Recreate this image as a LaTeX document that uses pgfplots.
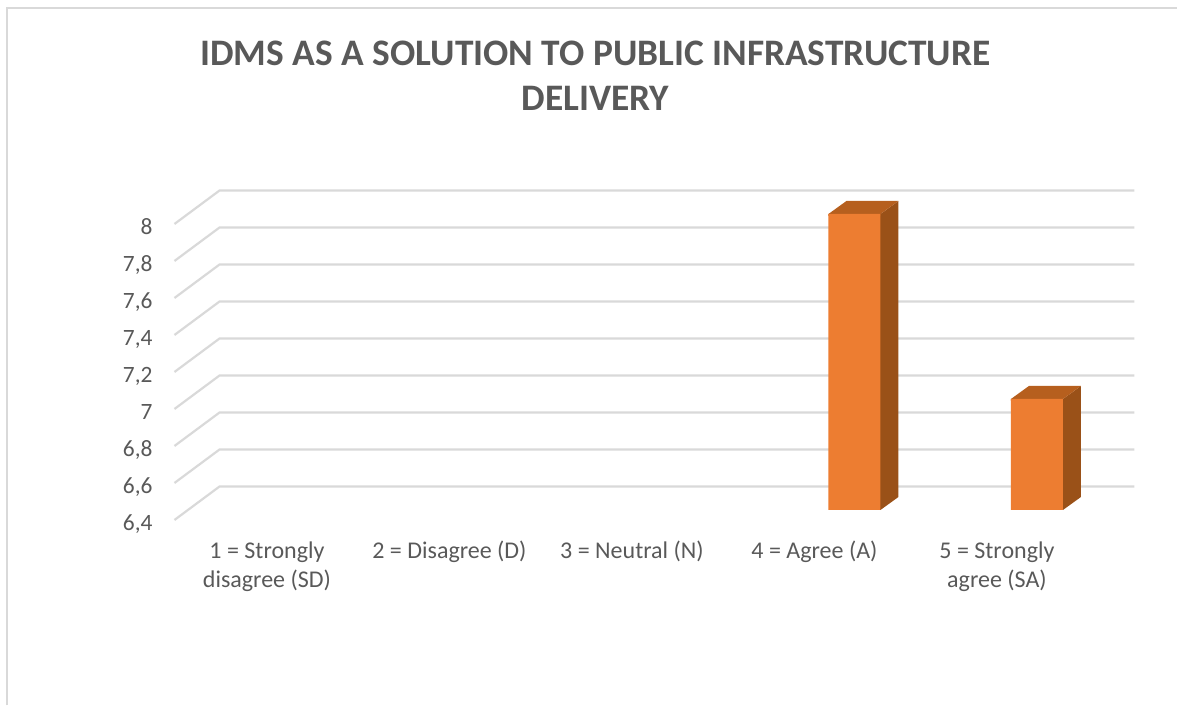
\documentclass[border=0pt]{standalone}
\usepackage{pgfplots}
\pgfplotsset{compat=1.18}
\usepackage{fontspec}
\setmainfont{Carlito}
\definecolor{labelgray}{HTML}{595959}
\definecolor{gridgray}{HTML}{D9D9D9}
\definecolor{framegray}{HTML}{D9D9D9}
\definecolor{barfront}{HTML}{ED7D31}
\definecolor{barside}{HTML}{9A5118}
\definecolor{bartop}{HTML}{B65F1E}
\begin{document}
\begin{tikzpicture}
\begin{axis}[
  at={(0,0)}, anchor=origin,
  width=456.25pt, height=148pt, scale only axis,
  xmin=-0.5, xmax=4.5, ymin=6.4, ymax=8,
  axis line style={draw=none},
  clip=false,
  tick style={draw=none},
  ytick={6.4,6.6,6.8,7,7.2,7.4,7.6,7.8,8},
  xtick={0,1,2,3,4},
  xticklabels={{1 = Strongly\\disagree (SD)},{2 = Disagree (D)},{3 = Neutral (N)},{4 = Agree (A)},{5 = Strongly\\agree (SA)}},
  /pgf/number format/assume math mode=true,
  /pgf/number format/use comma,
  /pgf/number format/precision=1,
  yticklabel style={font=\fontsize{11.7}{14}\selectfont, text=labelgray, anchor=base east, inner sep=0pt, xshift=-31.4pt, yshift=-10.25pt},
  xticklabel style={font=\fontsize{12}{14.5}\selectfont, text=labelgray, align=center, anchor=north, inner sep=0pt, xshift=-20pt, yshift=-15.5pt},
  title={IDMS AS A SOLUTION TO PUBLIC INFRASTRUCTURE\\DELIVERY},
  title style={at={(0.4162,1)}, anchor=south, align=center, inner sep=0pt, yshift=45.5pt,
    text=labelgray, font=\fontsize{18.7}{22.5}\selectfont\bfseries},
  bar width=0.285,
]
% canvas extent and outer chart border
\path (axis cs:-1.682,5.3405) rectangle (axis cs:4.773,9.1568);
\draw[framegray, line width=1pt] (axis cs:-1.644,5.344) -- (axis cs:-1.644,9.1135) -- (axis cs:4.7675,9.1135);

% floor and back-wall gridlines, one per tick value
\pgfplotsinvokeforeach{6.4,6.6,6.8,7.0,7.2,7.4,7.6,7.8,8.0}{
  \addplot[gridgray, line width=1.1pt, forget plot] coordinates {(-0.726,#1-0.054) (-0.479,#1+0.127) (4.534,#1+0.127)};
}

% side and top faces of the two bars, tucked slightly behind the front face
\addplot[fill=barside, draw=none, forget plot] coordinates {(3.135,6.4) (3.1425,6.4) (3.2411,6.4703) (3.2411,8.0703) (3.1425,8) (3.135,8)} --cycle;
\addplot[fill=bartop, draw=none, forget plot] coordinates {(2.8575,7.99) (2.8575,8) (2.9561,8.0703) (3.2411,8.0703) (3.1425,8) (3.1425,7.99)} --cycle;
\addplot[fill=barside, draw=none, forget plot] coordinates {(4.135,6.4) (4.1425,6.4) (4.2411,6.4703) (4.2411,7.0703) (4.1425,7) (4.135,7)} --cycle;
\addplot[fill=bartop, draw=none, forget plot] coordinates {(3.8575,6.99) (3.8575,7) (3.9561,7.0703) (4.2411,7.0703) (4.1425,7) (4.1425,6.99)} --cycle;

% front faces
\addplot[ybar, fill=barfront, draw=none] coordinates {(3,8) (4,7)};
\end{axis}
\end{tikzpicture}
\end{document}
